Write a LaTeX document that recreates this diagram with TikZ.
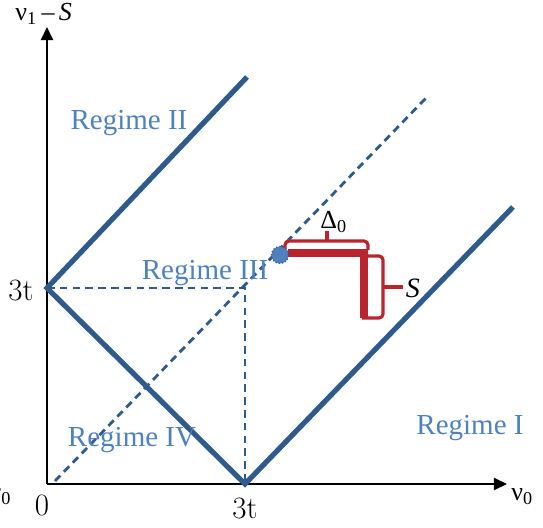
\documentclass[tikz,border=0pt]{standalone}
\usepackage{fontspec}
\newfontfamily\timesfont{Liberation Serif}
\usetikzlibrary{arrows.meta}
\definecolor{lineblue}{HTML}{2E5A8C}
\definecolor{textblue}{HTML}{4F81BD}
\definecolor{bracered}{HTML}{B8252F}
\tikzset{
  axis/.style={line width=1pt, -{Triangle[length=6.5pt, width=6pt]}},
  boundary/.style={line width=2.6pt, draw=lineblue},
  guide/.style={line width=1.4pt, draw=lineblue, dash pattern=on 3.8pt off 2.6pt},
  regime/.style={font=\timesfont\fontsize{14.5}{16}\selectfont, text=textblue, inner sep=0pt},
  tick/.style={font=\fontsize{15.5}{17}\selectfont, inner sep=0pt},
  axlabel/.style={font=\timesfont\fontsize{13}{15}\selectfont, inner sep=0pt},
  brace/.style={line width=1.6pt, draw=bracered, rounded corners=2pt},
  bar/.style={line width=3.6pt, draw=bracered},
  state/.style={circle, minimum size=8.5pt, inner sep=0pt, fill=textblue, draw=lineblue, densely dotted, line width=0.6pt}
}
\begin{document}
\begin{tikzpicture}[x=0.5pt, y=-0.5pt]
  \useasboundingbox (0,0) rectangle (543,527);

  % axes
  \coordinate (O) at (47,484);
  \coordinate (ytop) at (47,27);
  \coordinate (xend) at (507,484);
  \draw[axis] (O) -- (ytop);
  \draw[axis] (O) -- (xend);
  \node (ylab) [axlabel, anchor=west] at (15,14) {ν\textsubscript{1}\,–\,\textit{S}};
  \node (xlab) [axlabel, anchor=west] at (511,497) {ν\textsubscript{0}};
  \node (xlabcut) [axlabel, anchor=east] at (12,497) {ν\textsubscript{0}};
  \node (zero) [tick] at (42,505) {0};
  \node (ytick) [tick] at (21,290) {3t};
  \node (xtick) [tick] at (245,508) {3t};

  % regime boundaries
  \coordinate (P) at (47,288);
  \coordinate (Q) at (245,484);
  \coordinate (C) at (245,288);
  \coordinate (Ptop) at (247,77);
  \coordinate (Qtop) at (513,207);
  \coordinate (dstart) at (55,481);
  \coordinate (dend) at (427,97);
  \draw[boundary] (Ptop) -- (P) -- (Q) -- (Qtop);
  \draw[guide] (P) -- (C) -- (Q);
  \draw[guide] (dstart) -- (dend);

  \node (r1) [regime] at (470,428) {Regime I};
  \node (r2) [regime] at (129,123) {Regime II};
  \node (r3) [regime] at (205,273) {Regime III};
  \node (r4) [regime] at (132,440) {Regime IV};

  % offsets from the diagonal
  \coordinate (b1) at (288,253);
  \coordinate (b2) at (364,253);
  \coordinate (b3) at (364,318);
  \draw[bar] (b1) -- (b2) -- (b3);
  \draw[brace] (285,250) -- (285,241) -- (368,241) -- (368,250);
  \draw[brace] (368,256) -- (383,256) -- (383,318) -- (362,318);
  \coordinate (dtick) at (327,241);
  \coordinate (stick) at (383,287);
  \draw[brace] (dtick) -- ++(0,-10);
  \draw[brace] (stick) -- ++(20,0);
  \node (delta) [font=\timesfont\fontsize{13}{15}\selectfont, inner sep=0pt, anchor=south west] at (320,233) {Δ\textsubscript{0}};
  \node (slab) [font=\timesfont\itshape\fontsize{14}{16}\selectfont, inner sep=0pt] at (413,288) {S};
  \node (pt) [state] at (280,255) {};
\end{tikzpicture}
\end{document}
